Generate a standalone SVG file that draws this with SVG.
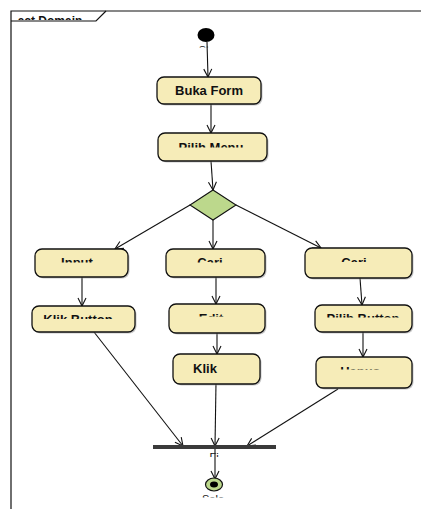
<svg xmlns="http://www.w3.org/2000/svg" width="421" height="509" viewBox="0 0 421 509">
<style>
.node{fill:#f6ecb8;stroke:#111;stroke-width:1.3}
.shadow{fill:#9a9a9a;opacity:0.55}
.lbl{font-family:"Liberation Sans",Arial,sans-serif;font-weight:bold;font-size:13px;fill:#111;text-anchor:middle}
.small{font-family:"Liberation Sans",Arial,sans-serif;font-size:11px;fill:#111;text-anchor:middle}
.edge{stroke:#111;stroke-width:1.1;fill:none;marker-end:url(#arr)}
.frame{stroke:#111;stroke-width:1.2;fill:none}
</style>
<defs>
<marker id="arr" markerUnits="userSpaceOnUse" markerWidth="12" markerHeight="12" refX="9" refY="5" orient="auto">
<path d="M1,1 L9,5 L1,9" fill="none" stroke="#111" stroke-width="1.1"/>
</marker>
<clipPath id="cFrame"><rect x="11" y="11" width="90" height="9"/></clipPath>
<clipPath id="cStart"><rect x="190" y="42" width="40" height="5.5"/></clipPath>
<clipPath id="cPilih"><rect x="158" y="133" width="109" height="14.5"/></clipPath>
<clipPath id="cInput"><rect x="35" y="249" width="93" height="13.5"/></clipPath>
<clipPath id="cCari1"><rect x="166" y="249" width="99" height="13.5"/></clipPath>
<clipPath id="cCari2"><rect x="305" y="248" width="107" height="14"/></clipPath>
<clipPath id="cKlikB"><rect x="32" y="306" width="103" height="13"/></clipPath>
<clipPath id="cEdit"><rect x="169" y="304" width="96" height="12.5"/></clipPath>
<clipPath id="cPilihB"><rect x="315" y="305" width="97" height="12.5"/></clipPath>
<clipPath id="cHapus"><rect x="316" y="357" width="96" height="12.5"/></clipPath>
<clipPath id="cFi"><rect x="200" y="451" width="30" height="6"/></clipPath>
<clipPath id="cSele"><rect x="195" y="490" width="40" height="7.5"/></clipPath>
</defs>

<g id="frame">
<path class="frame" d="M11,509 L11,11 L421,11"/>
<path class="frame" d="M11,21 L96,21 L106,11"/>
<text class="lbl" x="50" y="25" style="font-size:12px" clip-path="url(#cFrame)">act Domain</text>
</g>

<g id="edges">
<line class="edge" x1="207" y1="42" x2="208" y2="77"/>
<line class="edge" x1="211" y1="104" x2="211" y2="133"/>
<line class="edge" x1="211" y1="161" x2="213" y2="190"/>
<line class="edge" x1="190" y1="205" x2="115" y2="249"/>
<line class="edge" x1="213" y1="220" x2="213" y2="249"/>
<line class="edge" x1="236" y1="205" x2="321" y2="248"/>
<line class="edge" x1="82" y1="277" x2="82" y2="306"/>
<line class="edge" x1="216" y1="277" x2="216" y2="304"/>
<line class="edge" x1="360" y1="278" x2="362" y2="305"/>
<line class="edge" x1="217" y1="333" x2="217" y2="354"/>
<line class="edge" x1="363" y1="332" x2="363" y2="357"/>
<line class="edge" x1="94" y1="332" x2="183" y2="446"/>
<line class="edge" x1="216" y1="383" x2="215" y2="446"/>
<line class="edge" x1="338" y1="389" x2="247" y2="446"/>
<line class="edge" x1="215" y1="449" x2="215" y2="479"/>
</g>

<g id="start">
<ellipse cx="206" cy="35" rx="8.5" ry="7" fill="#000"/>
<text class="small" x="207" y="54" clip-path="url(#cStart)">Sta</text>
</g>

<g id="buka-form">
<rect class="shadow" x="158.5" y="78.5" width="104" height="27" rx="7"/>
<rect class="node" x="157" y="77" width="104" height="27" rx="7"/>
<text class="lbl" x="209" y="95">Buka Form</text>
</g>

<g id="pilih-menu">
<rect class="shadow" x="159.5" y="134.5" width="109" height="28" rx="7"/>
<rect class="node" x="158" y="133" width="109" height="28" rx="7"/>
<text class="lbl" x="211" y="152" clip-path="url(#cPilih)">Pilih Menu</text>
</g>

<g id="decision">
<polygon points="213,190 236,205 213,220 190,205" fill="#bcd88c" stroke="#111" stroke-width="1.1"/>
</g>

<g id="input">
<rect class="shadow" x="36.5" y="250.5" width="93" height="28" rx="7"/>
<rect class="node" x="35" y="249" width="93" height="28" rx="7"/>
<text class="lbl" x="77" y="267" clip-path="url(#cInput)">Input</text>
</g>

<g id="cari-1">
<rect class="shadow" x="167.5" y="250.5" width="99" height="28" rx="7"/>
<rect class="node" x="166" y="249" width="99" height="28" rx="7"/>
<text class="lbl" x="210" y="267" clip-path="url(#cCari1)">Cari</text>
</g>

<g id="cari-2">
<rect class="shadow" x="306.5" y="249.5" width="107" height="30" rx="7"/>
<rect class="node" x="305" y="248" width="107" height="30" rx="7"/>
<text class="lbl" x="354" y="267" clip-path="url(#cCari2)">Cari</text>
</g>

<g id="klik-button">
<rect class="shadow" x="33.5" y="307.5" width="103" height="26" rx="7"/>
<rect class="node" x="32" y="306" width="103" height="26" rx="7"/>
<text class="lbl" x="78" y="324" clip-path="url(#cKlikB)">Klik Button</text>
</g>

<g id="edit">
<rect class="shadow" x="170.5" y="305.5" width="96" height="29" rx="7"/>
<rect class="node" x="169" y="304" width="96" height="29" rx="7"/>
<text class="lbl" x="211" y="323" clip-path="url(#cEdit)">Edit</text>
</g>

<g id="pilih-button">
<rect class="shadow" x="316.5" y="306.5" width="97" height="27" rx="7"/>
<rect class="node" x="315" y="305" width="97" height="27" rx="7"/>
<text class="lbl" x="363" y="323" clip-path="url(#cPilihB)">Pilih Button</text>
</g>

<g id="klik">
<rect class="shadow" x="174.5" y="355.5" width="87" height="30" rx="7"/>
<rect class="node" x="173" y="354" width="87" height="30" rx="7"/>
<text class="lbl" x="205" y="373">Klik</text>
</g>

<g id="hapus">
<rect class="shadow" x="317.5" y="358.5" width="96" height="31" rx="7"/>
<rect class="node" x="316" y="357" width="96" height="31" rx="7"/>
<text class="lbl" x="360" y="376" clip-path="url(#cHapus)">Hapus</text>
</g>

<g id="join">
<rect x="153" y="445" width="123" height="4" fill="#3a3a3a"/>
<text class="small" x="214" y="461" clip-path="url(#cFi)">Fi</text>
</g>

<g id="end">
<ellipse cx="214" cy="484.5" rx="8.5" ry="6.5" fill="#bcd88c" stroke="#111" stroke-width="1.2"/>
<ellipse cx="214" cy="484.5" rx="4" ry="3" fill="#000"/>
<text class="small" x="213" y="503" clip-path="url(#cSele)">Sele</text>
</g>
</svg>
